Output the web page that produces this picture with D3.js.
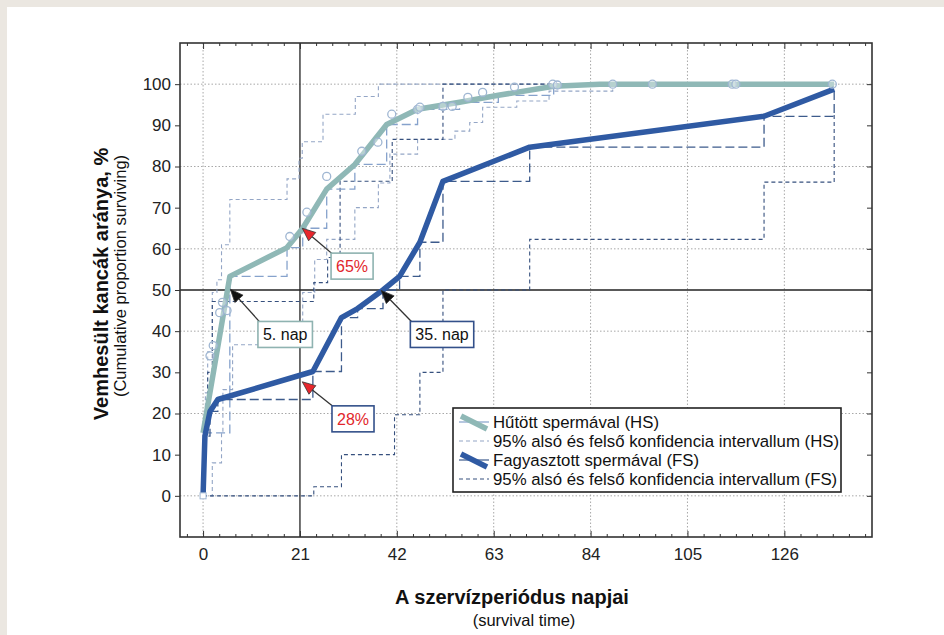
<!DOCTYPE html>
<html>
<head>
<meta charset="utf-8">
<script src="https://cdn.jsdelivr.net/npm/d3@7/dist/d3.min.js"></script>
<style>
  html, body { margin: 0; padding: 0; background: #ebe7e1; }
  svg { display: block; }
  text { font-family: "Liberation Sans", Arial, sans-serif; }
</style>
</head>
<body>
<svg id="chart" width="944" height="635"></svg>
<script>
// ---------------- DATA ----------------
const xTicks = [0, 21, 42, 63, 84, 105, 126];
const yTicks = [0, 10, 20, 30, 40, 50, 60, 70, 80, 90, 100];
const yGrid = [0, 20, 40, 60, 80, 100];
const xGrid = [0, 42, 63, 84, 105, 126];
const refDay = 21;
const refVal = 50;

// Hűtött spermával (HS) – cumulative proportion
const hsDays = [0, 5.8, 18.2, 21.6, 26.8, 32.9, 39.8, 46.5, 55.6, 64, 76, 86, 136.8];
const hsVals = [15.3, 53.3, 60.3, 65, 74.5, 80.5, 90.2, 93.9, 95.6, 97.3, 99.5, 100, 100];
// HS censored observations (circles)
const hsCensDays = [1.5, 2.2, 3.6, 4.2, 5.2, 18.8, 22.5, 26.8, 34.4, 37.9, 40.9, 46.5, 47, 52, 54, 57.4, 60.6, 67.5, 75.8, 76.8, 88.8, 97.4, 114.7, 115.5, 136.4];
const hsCensVals = [34, 36.5, 44.5, 47, 45, 63, 68.9, 77.6, 83.7, 85.9, 92.7, 93.9, 94.4, 94.6, 94.6, 96.8, 98, 99.3, 100, 99.8, 100, 100, 100, 100, 100];
// HS 95% confidence limits
const hsUpDays = [0, 0.5, 1, 2, 3, 4, 5.8, 18.2, 20.8, 21.5, 26, 33, 38, 136.8];
const hsUpVals = [15.3, 25, 35, 49.4, 52.5, 61, 72, 77, 82, 86, 92.7, 97, 100, 100];
const hsLoDays = [0, 2, 4, 4.3, 6.4, 21.6, 24.2, 26.8, 32.9, 38, 40.5, 46.5, 54.6, 57.8, 60.6, 68, 75, 88.8, 136.8];
const hsLoVals = [0, 8, 15.3, 25.8, 36.7, 49.4, 57.4, 62.3, 70, 76, 83, 86.6, 88.6, 90.7, 94.4, 95.9, 98.3, 100, 100];

// Fagyasztott spermával (FS)
const fsDays = [0, 0.4, 1.5, 3.2, 23.8, 30, 33.5, 39, 42.6, 47, 52, 70.8, 121.6, 136.8];
const fsVals = [0, 14.5, 20.5, 23.4, 30.2, 43.3, 45.5, 50, 53.3, 61.6, 76.4, 84.7, 92.2, 98.8];
const fsUpDays = [0, 0.3, 1, 2, 24, 27, 29.7, 41, 52, 136.8];
const fsUpVals = [0, 15, 30, 47.2, 51.8, 57.9, 76.4, 86.6, 100, 100];
const fsLoDays = [0, 24, 30, 41.5, 47, 52, 70.8, 121.6, 136.8];
const fsLoVals = [0, 2.2, 10, 19.7, 30, 50, 62.3, 76.2, 92.7];

// Annotations
const annTexts = ["65%", "28%", "5. nap", "35. nap"];
const annTipDays = [21.5, 21.5, 5.9, 38.6];
const annTipVals = [65, 27.7, 50.2, 49.9];
const annBoxDays = [32.3, 32.5, 17.8, 51.8];
const annBoxVals = [55.8, 18.7, 39.2, 39.2];
const annSeries = ["HS", "FS", "HS", "FS"];
const annRed = [true, true, false, false];

const legendLabels = [
  "Hűtött spermával (HS)",
  "95% alsó és felső konfidencia intervallum (HS)",
  "Fagyasztott spermával (FS)",
  "95% alsó és felső konfidencia intervallum (FS)"
];

// ---------------- STYLE ----------------
const C = {
  hs: "#8fb8b6",
  hsStep: "#86a2cc",
  hsCI: "#94a6c6",
  hsCirc: "#9fb6d2",
  fs: "#2f5aa3",
  fsStep: "#3d5b8c",
  fsCI: "#36507e",
  grid: "#a8a8a8",
  frame: "#333"
};
const tickFont = "'Liberation Sans Narrow', 'Arial Narrow', 'Liberation Sans', Arial, sans-serif";

const svg = d3.select("#chart");
svg.append("rect").attr("x", 7).attr("y", 7).attr("width", 937).attr("height", 628).attr("fill", "#fff");

const L = 180, R = 872, T = 43, B = 537;
const x = d3.scaleLinear().domain([-5, 145]).range([L, R]);
const y = d3.scaleLinear().domain([-10, 110]).range([B, T]);

const g = svg.append("g");

// grid
g.selectAll(".gx").data(xGrid).join("line")
  .attr("x1", d => x(d)).attr("x2", d => x(d)).attr("y1", T).attr("y2", B)
  .attr("stroke", C.grid).attr("stroke-width", 1).attr("stroke-dasharray", "1.5,2");
g.selectAll(".gy").data(yGrid).join("line")
  .attr("x1", L).attr("x2", R).attr("y1", d => y(d)).attr("y2", d => y(d))
  .attr("stroke", C.grid).attr("stroke-width", 1).attr("stroke-dasharray", "1.5,2");

// reference lines
g.append("line").attr("x1", x(refDay)).attr("x2", x(refDay)).attr("y1", T).attr("y2", B)
  .attr("stroke", "#333").attr("stroke-width", 1.4);
g.append("line").attr("x1", L).attr("x2", R).attr("y1", y(refVal)).attr("y2", y(refVal))
  .attr("stroke", "#222").attr("stroke-width", 1.4);

const zip = (a, b) => a.map((d, i) => [d, b[i]]);
const lineLin = d3.line().x(d => x(d[0])).y(d => y(d[1]));
const lineStep = d3.line().x(d => x(d[0])).y(d => y(d[1])).curve(d3.curveStepAfter);

// confidence limits
[[hsUpDays, hsUpVals, C.hsCI], [hsLoDays, hsLoVals, C.hsCI], [fsUpDays, fsUpVals, C.fsCI], [fsLoDays, fsLoVals, C.fsCI]]
  .forEach(([dd, vv, col]) => {
    g.append("path").attr("d", lineStep(zip(dd, vv))).attr("fill", "none")
      .attr("stroke", col).attr("stroke-width", 1.1).attr("stroke-dasharray", "4,3");
  });

// KM step functions
g.append("path").attr("d", lineStep(zip(hsDays, hsVals))).attr("fill", "none")
  .attr("stroke", C.hsStep).attr("stroke-width", 1.3).attr("stroke-dasharray", "9,4");
g.append("path").attr("d", lineStep(zip(fsDays, fsVals))).attr("fill", "none")
  .attr("stroke", C.fsStep).attr("stroke-width", 1.3).attr("stroke-dasharray", "9,4");

// thick lines
g.append("path").attr("d", lineLin(zip(hsDays, hsVals))).attr("fill", "none")
  .attr("stroke", C.hs).attr("stroke-width", 5.5).attr("stroke-linejoin", "round");
g.append("path").attr("d", lineLin(zip(fsDays, fsVals))).attr("fill", "none")
  .attr("stroke", C.fs).attr("stroke-width", 5.5).attr("stroke-linejoin", "round");

// censored circles
g.selectAll(".cens").data(zip(hsCensDays, hsCensVals)).join("circle")
  .attr("cx", d => x(d[0])).attr("cy", d => y(d[1])).attr("r", 4)
  .attr("fill", "#fff").attr("fill-opacity", 0.35)
  .attr("stroke", C.hsCirc).attr("stroke-width", 1.3);
// start marker
g.append("rect").attr("x", x(fsDays[0]) - 3).attr("y", y(fsVals[0]) - 3).attr("width", 6).attr("height", 6)
  .attr("fill", "#fff").attr("stroke", C.hsCirc).attr("stroke-width", 1);

// axes
const ax = svg.append("g");
const minorX = d3.range(-3.5, 145, 3.5).filter(d => !xTicks.includes(d));
ax.append("g").attr("transform", `translate(0,${B})`)
  .call(d3.axisBottom(x).tickValues(xTicks).tickSize(-6).tickPadding(11));
ax.append("g").attr("transform", `translate(0,${B})`)
  .call(d3.axisBottom(x).tickValues(minorX).tickSize(-3).tickFormat(""));
ax.append("g").attr("transform", `translate(0,${T})`)
  .call(d3.axisTop(x).tickValues(xTicks).tickSize(-6).tickFormat(""));
ax.append("g").attr("transform", `translate(0,${T})`)
  .call(d3.axisTop(x).tickValues(minorX).tickSize(-3).tickFormat(""));
ax.append("g").attr("transform", `translate(${L},0)`)
  .call(d3.axisLeft(y).tickValues(yTicks).tickSize(5).tickPadding(4));
ax.append("g").attr("transform", `translate(${R},0)`)
  .call(d3.axisRight(y).tickValues(yTicks).tickSize(-5).tickFormat(""));
ax.selectAll(".domain").remove();
ax.selectAll(".tick line").attr("stroke", "#333");
ax.selectAll("text").attr("font-size", 17).attr("fill", "#222")
  .attr("font-family", tickFont);

// frame
svg.append("rect").attr("x", L).attr("y", T).attr("width", R - L).attr("height", B - T)
  .attr("fill", "none").attr("stroke", C.frame).attr("stroke-width", 1.6);

// annotations
const an = svg.append("g");
annTexts.forEach((t, i) => {
  const tx = x(annTipDays[i]), ty = y(annTipVals[i]);
  const bx = x(annBoxDays[i]), by = y(annBoxVals[i]);
  const red = annRed[i];
  const border = annSeries[i] === "HS" ? "#8fb3b1" : "#33508a";
  const tmp = an.append("text").attr("font-size", 16).text(t);
  const tw = tmp.node().getComputedTextLength();
  tmp.remove();
  const bw = tw + 10, bh = 26;
  const ex = bx - bw / 2 + 4, ey = by - bh / 2 + 3;
  const ang = Math.atan2(ey - ty, ex - tx);
  const hl = 13, hw = 5.5;
  const baseX = tx + hl * Math.cos(ang), baseY = ty + hl * Math.sin(ang);
  an.append("line").attr("x1", baseX).attr("y1", baseY).attr("x2", ex).attr("y2", ey)
    .attr("stroke", "#333").attr("stroke-width", 1.3);
  const px = -Math.sin(ang), py = Math.cos(ang);
  an.append("path")
    .attr("d", `M${tx},${ty}L${baseX + px * hw},${baseY + py * hw}L${baseX - px * hw},${baseY - py * hw}Z`)
    .attr("fill", red ? "#e8262c" : "#111").attr("stroke", "#333").attr("stroke-width", 0.8);
  an.append("rect").attr("x", bx - bw / 2).attr("y", by - bh / 2).attr("width", bw).attr("height", bh)
    .attr("fill", "#fff").attr("stroke", border).attr("stroke-width", 1.6);
  an.append("text").attr("x", bx).attr("y", by).attr("dy", "0.36em").attr("text-anchor", "middle")
    .attr("font-size", 16).attr("fill", red ? "#e2262c" : "#111").text(t);
});

// legend
const lg = svg.append("g");
const lgX = 453, lgY = 408, lgW = 388, lgH = 84;
lg.append("rect").attr("x", lgX).attr("y", lgY).attr("width", lgW).attr("height", lgH)
  .attr("fill", "#fff").attr("stroke", "#222").attr("stroke-width", 1.6);
const rowY = [422, 441, 460, 479];
legendLabels.forEach((lab, i) => {
  const yy = rowY[i];
  const isFS = i >= 2;
  const main = isFS ? C.fs : C.hs;
  if (i % 2 === 0) {
    lg.append("line").attr("x1", lgX + 6).attr("x2", lgX + 36).attr("y1", yy).attr("y2", yy)
      .attr("stroke", isFS ? C.fsStep : C.hsStep).attr("stroke-width", 1.2);
    lg.append("line").attr("x1", lgX + 8).attr("x2", lgX + 34).attr("y1", yy - 6).attr("y2", yy + 7)
      .attr("stroke", main).attr("stroke-width", 5.5);
  } else {
    lg.append("line").attr("x1", lgX + 6).attr("x2", lgX + 36).attr("y1", yy).attr("y2", yy)
      .attr("stroke", isFS ? C.fsCI : C.hsCI).attr("stroke-width", 1.1).attr("stroke-dasharray", "4,3");
  }
  lg.append("text").attr("x", lgX + 40).attr("y", yy).attr("dy", "0.36em")
    .attr("font-size", 16.8).attr("fill", "#111").text(lab);
});

// axis titles
svg.append("text").attr("x", 512).attr("y", 597).attr("dy", "0.36em").attr("text-anchor", "middle")
  .attr("font-size", 20).attr("font-weight", "bold").attr("fill", "#111").text("A szervízperiódus napjai");
svg.append("text").attr("x", 524).attr("y", 620).attr("dy", "0.36em").attr("text-anchor", "middle")
  .attr("font-size", 16.5).attr("fill", "#111").text("(survival time)");
svg.append("text").attr("transform", "translate(101,284) rotate(-90)").attr("dy", "0.36em")
  .attr("text-anchor", "middle").attr("font-size", 20).attr("font-weight", "bold").attr("fill", "#111")
  .text("Vemhesült kancák aránya, %");
svg.append("text").attr("transform", "translate(120,276) rotate(-90)").attr("dy", "0.36em")
  .attr("text-anchor", "middle").attr("font-size", 16.5).attr("fill", "#111")
  .text("(Cumulative proportion surviving)");
</script>
</body>
</html>
